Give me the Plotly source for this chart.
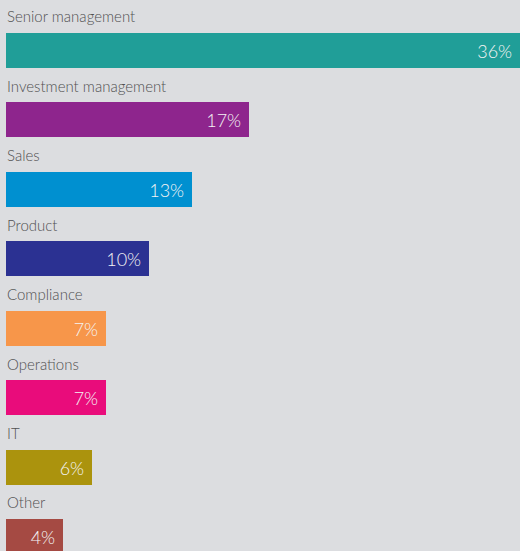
import plotly.graph_objects as go

# Share of respondents by function
categories = [
    "Senior management",
    "Investment management",
    "Sales",
    "Product",
    "Compliance",
    "Operations",
    "IT",
    "Other",
]
values = [36, 17, 13, 10, 7, 7, 6, 4]
colors = [
    "#209E98",
    "#8E258D",
    "#0090D0",
    "#2B3192",
    "#F7964A",
    "#E90C7B",
    "#AB930D",
    "#A54A43",
]

BG = "#DCDDE0"

fig = go.Figure(
    go.Bar(
        x=values,
        y=categories,
        orientation="h",
        marker=dict(color=colors, line=dict(width=0)),
        width=0.504,
        text=[f"{v}%\u00a0" for v in values],
        textposition="inside",
        insidetextanchor="end",
        textangle=0,
        constraintext="none",
        insidetextfont=dict(family="Lato", size=18, color="#F4F4F4", weight=300),
        hoverinfo="skip",
    )
)

# Category names sit above each bar
for cat in categories:
    fig.add_annotation(
        x=0,
        y=cat,
        xref="x",
        yref="y",
        text=cat,
        showarrow=False,
        xanchor="left",
        yanchor="bottom",
        xshift=-1,
        yshift=23,
        font=dict(family="Lato", size=15, color="#505050", weight=300),
    )

fig.update_layout(
    width=520,
    height=551,
    margin=dict(l=6, r=0, t=0, b=0),
    paper_bgcolor=BG,
    plot_bgcolor=BG,
    showlegend=False,
    bargap=0,
    xaxis=dict(
        range=[0, 36],
        visible=False,
        showgrid=False,
        zeroline=False,
    ),
    yaxis=dict(
        type="category",
        categoryorder="array",
        categoryarray=categories,
        range=[7.209, -0.727],
        visible=False,
        showgrid=False,
        zeroline=False,
    ),
)

fig.write_html("out.html")
